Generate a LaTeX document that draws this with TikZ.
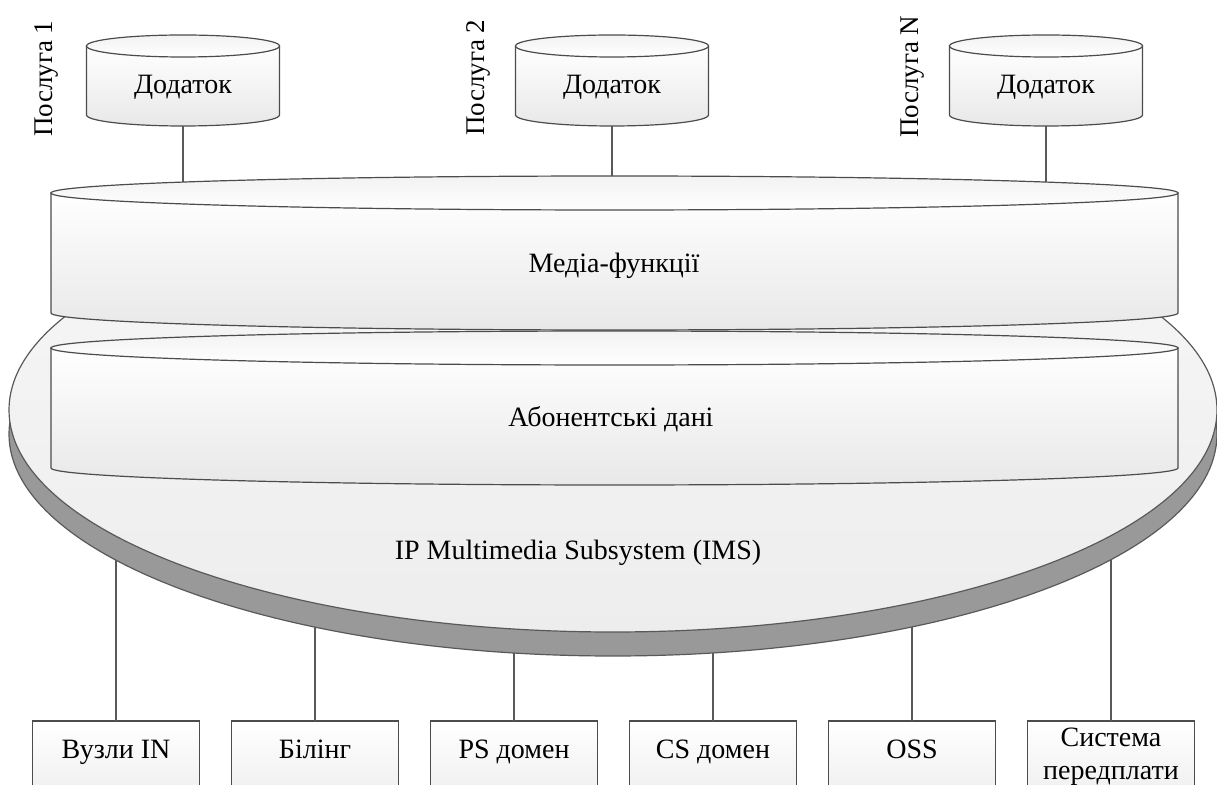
\documentclass[tikz,border=0pt]{standalone}
\usepackage{fontspec}
\setmainfont{Liberation Serif}

\tikzset{
	part/.style={draw=black!70, line width=0.6pt, top color=white, bottom color=black!9},
	face/.style={draw=black!70, line width=0.6pt, top color=black!5, bottom color=white},
	disc/.style={draw=black!65, line width=0.6pt, top color=black!3, bottom color=black!7},
	rim/.style={draw=black!65, line width=0.6pt, fill=black!40},
	wire/.style={draw=black!65, line width=0.6pt},
	txt/.style={font=\fontsize{14}{16.5}\selectfont, inner sep=0pt, align=center},
	unit/.style={txt, anchor=north, minimum width=83.5pt, minimum height=31pt},
	oneline/.style={text height=9.5pt, text depth=3pt},
	app/.style={txt, oneline, minimum width=96.5pt, minimum height=40pt, text depth=1.5pt},
}

\begin{document}
\begin{tikzpicture}[x=0.5pt, y=0.5pt]

	% page
	\useasboundingbox (0,-785) rectangle (1217,0);
	\clip (0,-785) rectangle (1217,0);

	% wire ends
	\coordinate (ims) at (613,-410);
	\coordinate (media) at (614.5,-193);

	% bottom units
	\foreach \x in {116,315,514,713,912,1111}
		\draw[part] (\x-83.5,-721) rectangle (\x+83.5,-830);
	\node[unit, oneline] (innodes) at (116,-721) {Вузли IN};
	\node[unit, oneline] (billing) at (315,-721) {Білінг};
	\node[unit, oneline] (psdom) at (514,-721) {PS домен};
	\node[unit, oneline] (csdom) at (713,-721) {CS домен};
	\node[unit, oneline] (oss) at (912,-721) {OSS};
	\node[unit, minimum height=35pt] (prepay) at (1111,-721) {Система\\передплати};

	% wires up to IMS
	\foreach \n in {innodes,billing,psdom,csdom,oss,prepay}
		\draw[wire] (\n.north) -- (\n.north |- ims);

	% applications
	\foreach \x in {183,612,1046}{
		\draw[part] (\x-96.5,-46) -- (\x-96.5,-115) arc (180:360:96.5 and 11) -- (\x+96.5,-46) -- cycle;
		\draw[face] (\x,-46) ellipse (96.5 and 11);
	}
	\node[app] (app1) at (183,-86) {Додаток};
	\node[app] (app2) at (612,-86) {Додаток};
	\node[app] (appN) at (1046,-86) {Додаток};

	% wires down to media
	\foreach \n in {app1,app2,appN}
		\draw[wire] (\n.south) -- (\n.south |- media);

	% services
	\node[txt, rotate=90, anchor=west, font=\fontsize{13.5}{16}\selectfont] (srv1) at (47,-137) {Послуга 1};
	\node[txt, rotate=90, anchor=west, font=\fontsize{13.5}{16}\selectfont] (srv2) at (478,-136) {Послуга 2};
	\node[txt, rotate=90, anchor=west, font=\fontsize{13.5}{16}\selectfont] (srvN) at (913,-138) {Послуга N};

	% IMS disc
	\draw[rim] (613,-434) ellipse (604 and 222);
	\draw[disc] (ims) ellipse (604 and 222);

	% subscriber data
	\draw[part] (51,-348) -- (51,-468) arc (180:360:563.5 and 17) -- (1178,-348) -- cycle;
	\draw[face] (614.5,-348) ellipse (563.5 and 17);

	% media functions
	\draw[part] (51,-193) -- (51,-313) arc (180:360:563.5 and 17) -- (1178,-193) -- cycle;
	\draw[face] (media) ellipse (563.5 and 17);

	% texts
	\node[txt] (mediaf) at (614,-266) {Медіа-функції};
	\node[txt] (subsd) at (611,-419) {Абонентські дані};
	\node[txt] (imsname) at (578,-553) {IP Multimedia Subsystem (IMS)};

\end{tikzpicture}
\end{document}
